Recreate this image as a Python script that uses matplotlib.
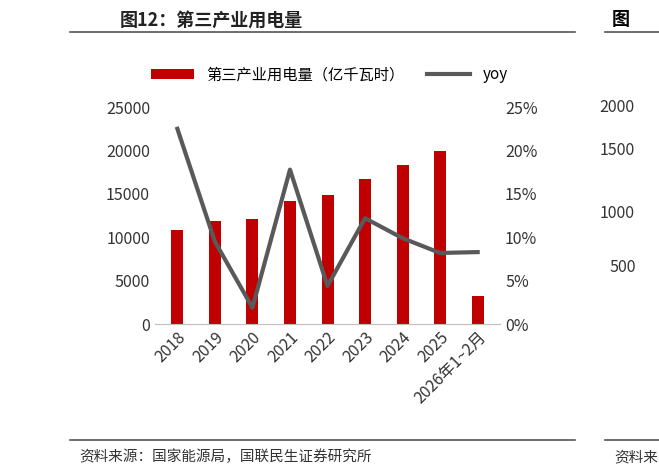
import matplotlib.pyplot as plt
from matplotlib.ticker import FuncFormatter

plt.rcParams['font.family'] = ['Noto Sans CJK SC', 'DejaVu Sans']

years = ["2018", "2019", "2020", "2021", "2022", "2023", "2024", "2025", "2026年1~2月"]
power = [10800, 11860, 12090, 14230, 14860, 16690, 18350, 19940, 3200]
yoy = [22.5, 9.5, 1.9, 17.8, 4.4, 12.2, 9.9, 8.2, 8.3]

fig = plt.figure(figsize=(6.59, 4.76), dpi=100)
ax = fig.add_axes([0.235, 0.319, 0.524, 0.456])
x = range(len(years))
ax.bar(x, power, width=0.32, color="#C00000", label="第三产业用电量（亿千瓦时）")
ax.set_ylim(0, 25000)
ax.set_yticks(range(0, 25001, 5000))
ax.set_xlim(-0.6, len(years) - 0.4)
ax.set_xticks(list(x))
ax.set_xticklabels(years, rotation=45, ha="right", rotation_mode="anchor")
for s in ["top", "left", "right"]:
    ax.spines[s].set_visible(False)
ax.spines["bottom"].set_color("#BFBFBF")
ax.tick_params(length=0, labelsize=11.5, colors="#333333")

ax2 = ax.twinx()
ax2.plot(x, yoy, color="#595959", lw=3, label="yoy")
ax2.set_ylim(0, 25)
ax2.yaxis.set_major_formatter(FuncFormatter(lambda v, p: f"{v:.0f}%"))
for s in ax2.spines.values():
    s.set_visible(False)
ax2.tick_params(length=0, labelsize=11.5, colors="#333333")

h1, l1 = ax.get_legend_handles_labels()
h2, l2 = ax2.get_legend_handles_labels()
fig.legend(h1 + h2, l1 + l2, loc="center", bbox_to_anchor=(0.5, 0.843), ncol=2,
           frameon=False, fontsize=11, handlelength=2.8, columnspacing=1.5)

fig.text(0.182, 0.958, "图12：第三产业用电量", fontsize=13, fontweight="bold", va="center", color="#222222")
fig.add_artist(plt.Line2D([0.106, 0.873], [0.933, 0.933], color="#555555", lw=1.2))
fig.add_artist(plt.Line2D([0.918, 1.0], [0.933, 0.933], color="#555555", lw=1.2))
fig.text(0.928, 0.958, "图", fontsize=13, fontweight="bold", va="center")
for yy, t in [(0.775, "2000"), (0.683, "1500"), (0.551, "1000"), (0.437, "500")]:
    fig.text(0.91 if len(t) == 4 else 0.925, yy, t, fontsize=11.5, va="center", color="#333333")
fig.add_artist(plt.Line2D([0.106, 0.873], [0.076, 0.076], color="#555555", lw=1.2))
fig.add_artist(plt.Line2D([0.918, 1.0], [0.076, 0.076], color="#555555", lw=1.2))
fig.text(0.121, 0.040, "资料来源：国家能源局，国联民生证券研究所", fontsize=10.5, va="center", color="#333333")
fig.text(0.932, 0.040, "资料来", fontsize=10.5, va="center", color="#333333")

fig.savefig("out.png", dpi=100)
